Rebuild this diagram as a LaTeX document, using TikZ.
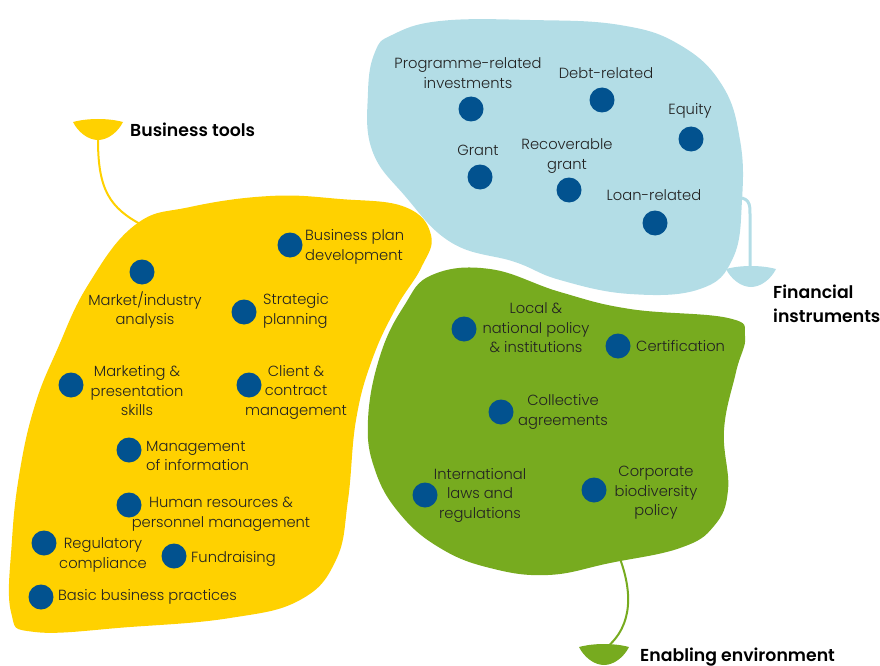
\documentclass[tikz,border=0pt]{standalone}
\usepackage{fontspec}
\setmainfont{Poppins Light}[BoldFont={Poppins SemiBold}]
\definecolor{toolyellow}{HTML}{FFD100}
\definecolor{finblue}{HTML}{B3DDE6}
\definecolor{envgreen}{HTML}{77AB1F}
\definecolor{dotblue}{HTML}{02528F}
\definecolor{inkgray}{HTML}{222222}
\newcommand{\lblfont}{\fontsize{14.7}{19.5}\selectfont}
\newcommand{\ttlfont}{\fontsize{17.3}{24}\selectfont\bfseries}
\tikzset{
  dot/.style={circle, fill=dotblue, minimum size=25pt, inner sep=0pt},
  lbl/.style={font=\lblfont, text=inkgray, align=center, inner sep=0pt},
  lbll/.style={lbl, align=left, anchor=west},
  ttl/.style={font=\ttlfont, text=black, align=left, anchor=west, inner sep=0pt},
  stem/.style={line width=2pt, line cap=round},
}
% cup at the end of a stem: x, top y, colour
\newcommand{\bowl}[3]{%
  \fill[#3] (#1-25,#2+2) .. controls (#1-10,#2-2) and (#1+10,#2-2) .. (#1+25,#2+2)
    .. controls (#1+20,#2+12) and (#1+10,#2+20) .. (#1,#2+20)
    .. controls (#1-10,#2+20) and (#1-20,#2+12) .. cycle;}
\begin{document}
\begin{tikzpicture}[x=1pt, y=-1pt]
  \useasboundingbox (0,0) rectangle (880,666);

  % blobs
  \fill[finblue] plot[smooth cycle, tension=0.7] coordinates {
    (392,35) (440,21) (530,20) (620,25) (680,45) (722,85) (740,140) (742,200)
    (733,258) (700,289) (630,294) (560,280) (515,262) (452,243) (405,196)
    (372,150) (368,92) (375,52)};
  \fill[toolyellow] plot[smooth cycle, tension=0.7] coordinates {
    (135,225) (190,207) (270,196) (340,199) (405,207) (431,235) (421,268)
    (396,308) (372,360) (356,420) (348,500) (336,560) (300,600) (230,618)
    (130,627) (35,632) (11,612) (12,540) (20,470) (35,405) (57,350) (88,285)};
  \fill[envgreen] plot[smooth cycle, tension=0.7] coordinates {
    (432,275) (490,269) (560,292) (630,309) (728,318) (745,336) (736,372)
    (724,430) (728,490) (714,526) (680,548) (610,563) (548,575) (490,568)
    (440,548) (400,514) (375,470) (368,420) (380,356) (404,306)};

  % stems and cups
  \coordinate (ycup) at (98,140);
  \coordinate (yroot) at (142,225);
  \draw[stem, toolyellow] (ycup) .. controls (98,190) and (110,208) .. (yroot);
  \bowl{98}{120}{toolyellow}
  \coordinate (broot) at (732,197);
  \coordinate (bbend) at (750,215);
  \coordinate (bcup) at (750,270);
  \draw[stem, finblue, line width=3pt] (broot) .. controls (750,197) and (750,203) .. (bbend) -- (bcup);
  \bowl{751}{267}{finblue}
  \coordinate (groot) at (619,556);
  \coordinate (gcup) at (606,648);
  \draw[stem, envgreen] (groot) .. controls (632,590) and (634,625) .. (gcup);
  \bowl{604}{645}{envgreen}

  % titles
  \node[ttl] (tools) at (130,130) {Business tools};
  \node[ttl] (fin) at (773,304) {Financial\\instruments};
  \node[ttl] (env) at (640,657) {Enabling environment};

  % financial instruments
  \node[dot] (pri) at (471,109) {};
  \node[lbl] (pril) at (468,73) {Programme-related\\investments};
  \node[dot] (debt) at (602,100) {};
  \node[lbl] (debtl) at (606,73) {Debt-related};
  \node[dot] (equity) at (691,139) {};
  \node[lbl] (equityl) at (690,111) {Equity};
  \node[dot] (grant) at (480,177) {};
  \node[lbl] (grantl) at (478,150) {Grant};
  \node[dot] (rgrant) at (569,190) {};
  \node[lbl] (rgrantl) at (567,156) {Recoverable\\grant};
  \node[dot] (loan) at (655,223) {};
  \node[lbl] (loanl) at (654,195) {Loan-related};

  % business tools
  \node[dot] (bpd) at (290,245) {};
  \node[lbll] (bpdl) at (305,247) {Business plan\\development};
  \node[dot] (mia) at (142,272) {};
  \node[lbl] (mial) at (145,310) {Market/industry\\analysis};
  \node[dot] (spl) at (244,312) {};
  \node[lbll] (spll) at (263,311) {Strategic\\planning};
  \node[dot] (mps) at (71,385) {};
  \node[lbl] (mpsl) at (137,391) {Marketing \&\\presentation\\skills};
  \node[dot] (ccm) at (249,385) {};
  \node[lbl] (ccml) at (296,392) {Client \&\\contract\\management};
  \node[dot] (moi) at (129,450) {};
  \node[lbll] (moil) at (146,456) {Management\\of information};
  \node[dot] (hrm) at (129,505) {};
  \node[lbl] (hrml) at (221,514) {Human resources \&\\personnel management};
  \node[dot] (rcm) at (44,543) {};
  \node[lbl] (rcml) at (103,555) {Regulatory\\compliance};
  \node[dot] (fund) at (174,556) {};
  \node[lbll] (fundl) at (191,559) {Fundraising};
  \node[dot] (bbp) at (41,597) {};
  \node[lbll] (bbpl) at (58,597) {Basic business practices};

  % enabling environment
  \node[dot] (lnp) at (464,329) {};
  \node[lbl] (lnpl) at (536,328) {Local \&\\national policy\\\& institutions};
  \node[dot] (cert) at (618,346) {};
  \node[lbll] (certl) at (636,346) {Certification};
  \node[dot] (cag) at (501,412) {};
  \node[lbl] (cagl) at (563,412) {Collective\\agreements};
  \node[dot] (ilr) at (425,495) {};
  \node[lbl] (ilrl) at (480,495) {International\\laws and\\regulations};
  \node[dot] (cbp) at (594,490) {};
  \node[lbl] (cbpl) at (656,493) {Corporate\\biodiversity\\policy};
\end{tikzpicture}
\end{document}
